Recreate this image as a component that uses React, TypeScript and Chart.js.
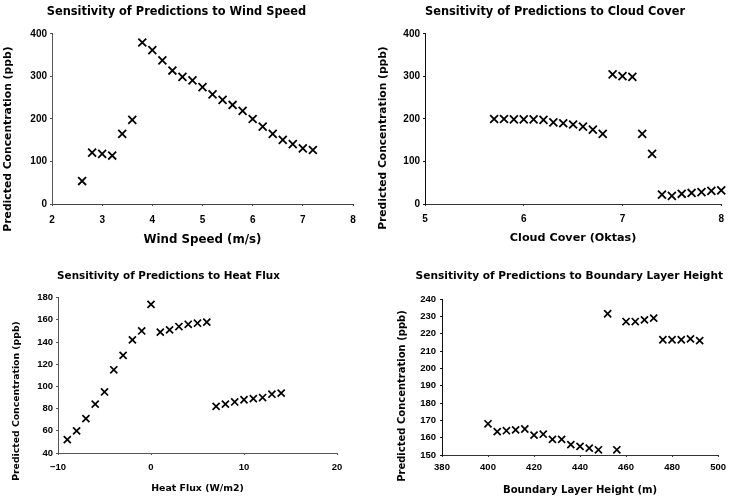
import React, { useEffect, useRef } from 'react';
import { Chart, registerables } from 'chart.js';

Chart.register(...registerables);

// ---------- data ----------
const windSpeed = [2.6, 2.8, 3.0, 3.2, 3.4, 3.6, 3.8, 4.0, 4.2, 4.4, 4.6, 4.8, 5.0, 5.2, 5.4, 5.6, 5.8, 6.0, 6.2, 6.4, 6.6, 6.8, 7.0, 7.2];
const windConc = [54, 121, 118, 114, 165, 198, 380, 362, 338, 314, 299, 291, 275, 258, 245, 233, 219, 200, 182, 165, 151, 141, 131, 127];

const cloudCover = [5.7, 5.8, 5.9, 6.0, 6.1, 6.2, 6.3, 6.4, 6.5, 6.6, 6.7, 6.8, 6.9, 7.0, 7.1, 7.2, 7.3, 7.4, 7.5, 7.6, 7.7, 7.8, 7.9, 8.0];
const cloudConc = [200, 200, 199, 199, 199, 198, 192, 190, 187, 182, 175, 165, 305, 301, 299, 165, 118, 22, 19, 24, 26, 28, 31, 32];

const heatFlux = [-9, -8, -7, -6, -5, -4, -3, -2, -1, 0, 1, 2, 3, 4, 5, 6, 7, 8, 9, 10, 11, 12, 13, 14];
const heatConc = [52, 60, 71, 84, 95, 115, 128, 142, 150, 174, 149, 151, 154, 156, 157, 158, 82, 84, 86, 88, 89, 90, 93, 94];

const blHeight = [400, 404, 408, 412, 416, 420, 424, 428, 432, 436, 440, 444, 448, 452, 456, 460, 464, 468, 472, 476, 480, 484, 488, 492];
const blConc = [168, 163.5, 164, 164.5, 165, 161.5, 162, 159, 159, 156, 155, 154, 153, 231.5, 153, 227, 227, 228, 229, 216.5, 216.5, 216.5, 217, 216];

// ---------- tick labels ----------
const windTicksX = [2, 3, 4, 5, 6, 7, 8];
const concTicks400 = [0, 100, 200, 300, 400];
const cloudTicksX = [5, 6, 7, 8];
const heatTicksX = [-10, 0, 10, 20];
const heatTicksY = [40, 60, 80, 100, 120, 140, 160, 180];
const blTicksX = [380, 400, 420, 440, 460, 480, 500];
const blTicksY = [150, 160, 170, 180, 190, 200, 210, 220, 230, 240];

// ---------- text ----------
const titles = [
  'Sensitivity of Predictions to Wind Speed',
  'Sensitivity of Predictions to Cloud Cover',
  'Sensitivity of Predictions to Heat Flux',
  'Sensitivity of Predictions to Boundary Layer Height',
];
const xTitles = ['Wind Speed (m/s)', 'Cloud Cover (Oktas)', 'Heat Flux (W/m2)', 'Boundary Layer Height (m)'];
const yTitle = 'Predicted Concentration (ppb)';

const TITLE_FONT = '"DejaVu Sans", sans-serif';
const TICK_FONT = '"Liberation Sans", Arial, sans-serif';

const yTitlePlugin = {
  id: 'yTitle',
  afterDraw(chart: any, _args: any, opts: any) {
    const ctx = chart.ctx;
    ctx.save();
    ctx.translate(opts.x, opts.y);
    ctx.rotate(-Math.PI / 2);
    ctx.font = `bold ${opts.size}px ${TITLE_FONT}`;
    ctx.fillStyle = '#000';
    ctx.textAlign = 'center';
    ctx.textBaseline = 'middle';
    ctx.fillText(opts.text, 0, 0);
    ctx.restore();
  },
};

const fmt = (v: any) => {
  const n = Number(v);
  return n < 0 ? '\u2212' + Math.abs(n) : String(n);
};

type Spec = {
  left: number; top: number; w: number; h: number;
  xs: number[]; ys: number[];
  xMin: number; xMax: number; yMin: number; yMax: number;
  xTicks: number[]; yTicks: number[];
  title: string; titleSize: number; titlePadT: number; titlePadB: number; titleFull: boolean; titleAlign: string;
  xTitle: string; xTitleSize: number; xTitlePadB: number;
  yTitleX: number; yTitleY: number; yTitleSize: number;
  yW: number; xH: number; padR: number;
  xTickPad: number; yTickPad: number; tickSize: number;
  xBorderDash: number[]; yBorderDash: number[]; xBorderColor: string; yBorderColor: string;
  r: number; bw: number;
};

function buildConfig(s: Spec): any {
  return {
    type: 'scatter',
    data: {
      datasets: [{
        data: s.xs.map((x, i) => ({ x, y: s.ys[i] })),
        pointStyle: 'crossRot',
        pointRadius: s.r,
        pointHoverRadius: s.r,
        borderColor: '#000',
        backgroundColor: '#000',
        pointBorderWidth: s.bw,
        borderWidth: s.bw,
        showLine: false,
        clip: false,
      }],
    },
    options: {
      responsive: false,
      animation: false,
      devicePixelRatio: 1,
      events: [],
      layout: { autoPadding: false, padding: { left: 0, top: 0, right: s.padR, bottom: 0 } },
      plugins: {
        legend: { display: false },
        tooltip: { enabled: false },
        title: {
          display: true,
          text: s.title,
          color: '#000',
          fullSize: s.titleFull,
          align: s.titleAlign,
          font: { family: TITLE_FONT, size: s.titleSize, weight: 'bold' },
          padding: { top: s.titlePadT, bottom: s.titlePadB },
        },
        yTitle: { text: yTitle, x: s.yTitleX, y: s.yTitleY, size: s.yTitleSize },
      },
      scales: {
        x: {
          type: 'linear',
          position: 'bottom',
          min: s.xMin,
          max: s.xMax,
          afterBuildTicks: (sc: any) => { sc.ticks = s.xTicks.map((value) => ({ value })); },
          afterFit: (sc: any) => { sc.height = s.xH; },
          ticks: {
            color: '#000', padding: s.xTickPad, maxRotation: 0, autoSkip: false, callback: fmt,
            font: { family: TICK_FONT, size: s.tickSize, weight: 'bold' },
          },
          grid: { display: true, drawOnChartArea: false, drawTicks: true, tickLength: 2, color: s.xBorderColor },
          border: { display: true, color: s.xBorderColor, width: 1, dash: s.xBorderDash },
          title: {
            display: true, text: s.xTitle, color: '#000',
            font: { family: TITLE_FONT, size: s.xTitleSize, weight: 'bold' },
            padding: { top: 0, bottom: s.xTitlePadB },
          },
        },
        y: {
          type: 'linear',
          position: 'left',
          min: s.yMin,
          max: s.yMax,
          afterBuildTicks: (sc: any) => { sc.ticks = s.yTicks.map((value) => ({ value })); },
          afterFit: (sc: any) => { sc.width = s.yW; },
          ticks: {
            color: '#000', padding: s.yTickPad, autoSkip: false, callback: fmt,
            font: { family: TICK_FONT, size: s.tickSize, weight: 'bold' },
          },
          grid: { display: true, drawOnChartArea: false, drawTicks: true, tickLength: 2, color: s.yBorderColor },
          border: { display: true, color: s.yBorderColor, width: 1, dash: s.yBorderDash },
          title: { display: false },
        },
      },
    },
    plugins: [yTitlePlugin],
  };
}

const specs: Spec[] = [
  {
    left: 0, top: 0, w: 365, h: 250,
    xs: windSpeed, ys: windConc, xMin: 2, xMax: 8, yMin: 0, yMax: 400,
    xTicks: windTicksX, yTicks: concTicks400,
    title: titles[0], titleSize: 11.4, titlePadT: 4.9, titlePadB: 15.4, titleFull: true, titleAlign: 'center',
    xTitle: xTitles[0], xTitleSize: 11.8, xTitlePadB: 2.9,
    yTitleX: 8.5, yTitleY: 139, yTitleSize: 10.8,
    yW: 52, xH: 46, padR: 12, xTickPad: 8, yTickPad: 3, tickSize: 10,
    xBorderDash: [3, 2], yBorderDash: [2, 2], xBorderColor: '#444', yBorderColor: '#555',
    r: 5.6, bw: 1.8,
  },
  {
    left: 365, top: 0, w: 366, h: 250,
    xs: cloudCover, ys: cloudConc, xMin: 5, xMax: 8, yMin: 0, yMax: 400,
    xTicks: cloudTicksX, yTicks: concTicks400,
    title: titles[1], titleSize: 11.4, titlePadT: 4.9, titlePadB: 15.4, titleFull: false, titleAlign: 'start',
    xTitle: xTitles[1], xTitleSize: 11.2, xTitlePadB: 5,
    yTitleX: 18.5, yTitleY: 138, yTitleSize: 10.7,
    yW: 60, xH: 46, padR: 7, xTickPad: 7, yTickPad: 3, tickSize: 10,
    xBorderDash: [], yBorderDash: [], xBorderColor: '#333', yBorderColor: '#111',
    r: 5.6, bw: 1.8,
  },
  {
    left: 0, top: 250, w: 365, h: 250,
    xs: heatFlux, ys: heatConc, xMin: -10, xMax: 20, yMin: 40, yMax: 180,
    xTicks: heatTicksX, yTicks: heatTicksY,
    title: titles[2], titleSize: 10.4, titlePadT: 19.8, titlePadB: 15.4, titleFull: true, titleAlign: 'center',
    xTitle: xTitles[2], xTitleSize: 9.4, xTitlePadB: 6.1,
    yTitleX: 17, yTitleY: 151, yTitleSize: 9.3,
    yW: 58, xH: 47, padR: 28, xTickPad: 7, yTickPad: 3, tickSize: 9.5,
    xBorderDash: [2, 2], yBorderDash: [2, 2], xBorderColor: '#555', yBorderColor: '#555',
    r: 5, bw: 1.7,
  },
  {
    left: 365, top: 250, w: 366, h: 250,
    xs: blHeight, ys: blConc, xMin: 380, xMax: 500, yMin: 150, yMax: 240,
    xTicks: blTicksX, yTicks: blTicksY,
    title: titles[3], titleSize: 10.6, titlePadT: 20.3, titlePadB: 16, titleFull: true, titleAlign: 'end',
    xTitle: xTitles[3], xTitleSize: 10.1, xTitlePadB: 3.9,
    yTitleX: 37, yTitleY: 146, yTitleSize: 10,
    yW: 77, xH: 45, padR: 8, xTickPad: 5, yTickPad: 4, tickSize: 9.5,
    xBorderDash: [], yBorderDash: [], xBorderColor: '#333', yBorderColor: '#111',
    r: 5, bw: 1.7,
  },
];

function Panel({ spec }: { spec: Spec }) {
  const ref = useRef<HTMLCanvasElement | null>(null);
  useEffect(() => {
    if (!ref.current) return;
    const chart = new Chart(ref.current, buildConfig(spec));
    return () => chart.destroy();
  }, [spec]);
  return (
    <canvas
      ref={ref}
      width={spec.w}
      height={spec.h}
      style={{ position: 'absolute', left: spec.left, top: spec.top, width: spec.w, height: spec.h }}
    />
  );
}

export default function App() {
  return (
    <div style={{ position: 'absolute', left: 0, top: 0, width: 731, height: 500, background: '#fff', overflow: 'hidden' }}>
      {specs.map((s, i) => (
        <Panel key={i} spec={s} />
      ))}
    </div>
  );
}
